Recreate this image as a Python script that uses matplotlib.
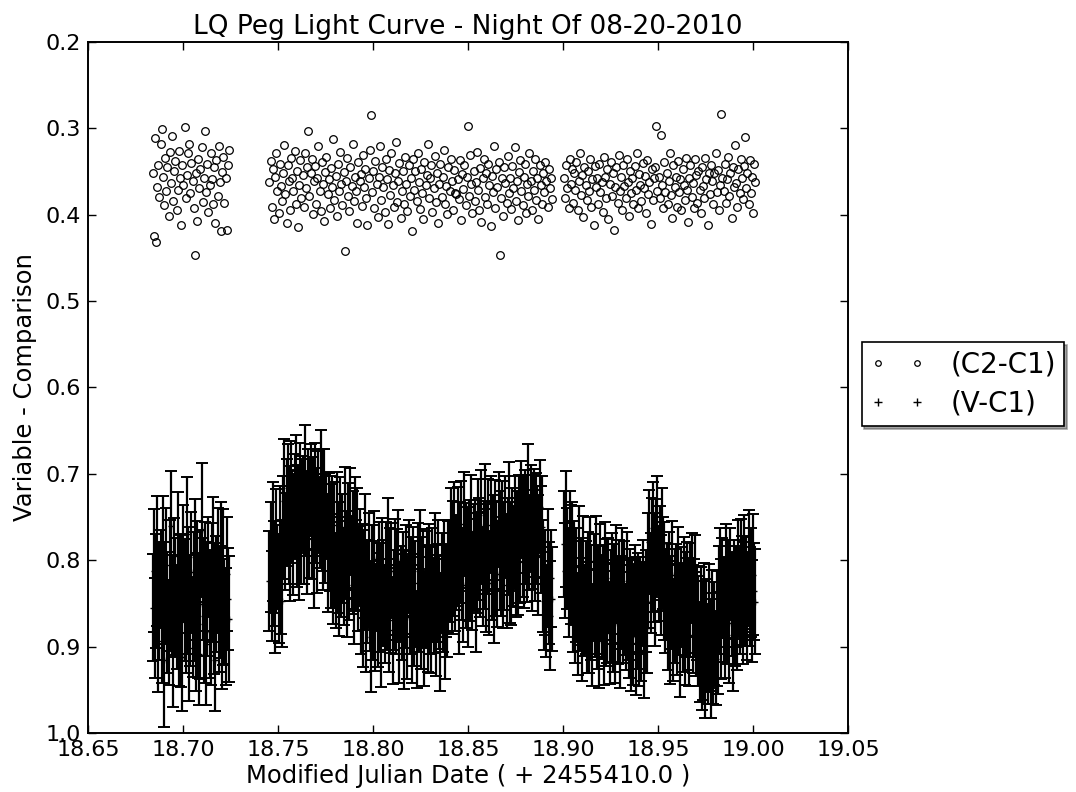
import numpy as np
import matplotlib
matplotlib.use("Agg")
import matplotlib.pyplot as plt
from matplotlib.lines import Line2D

# MJD offset (days) that the time lists below are counted from
T0 = 18.68

# observation times, in units of 1e-4 day past T0 (three runs of the night)
t_run1 = [40, 46, 52, 58, 64, 70, 76, 82, 88, 94, 100, 106, 112, 118, 124, 130, 136, 142, 148, 154,
          160, 166, 172, 178, 184, 190, 196, 202, 208, 214, 220, 226, 232, 238, 244, 250, 256, 262, 268, 274,
          280, 286, 292, 298, 304, 310, 316, 322, 328, 334, 340, 346, 352, 358, 364, 370, 376, 382, 388, 394,
          400, 406, 412, 418, 424, 430, 436, 442]
t_run2 = [655, 661, 667, 673, 679, 685, 691, 697, 703, 709, 715, 721, 727, 733, 739, 745, 751, 757, 763, 769,
          775, 781, 787, 793, 799, 805, 811, 817, 823, 829, 835, 841, 847, 853, 859, 865, 871, 877, 883, 889,
          895, 901, 907, 913, 919, 925, 931, 937, 943, 949, 955, 961, 967, 973, 979, 985, 991, 997, 1003, 1009,
          1015, 1021, 1027, 1033, 1039, 1045, 1051, 1057, 1063, 1069, 1075, 1081, 1087, 1093, 1099, 1105, 1111,
          1117, 1123, 1129, 1135, 1141, 1147, 1153, 1159, 1165, 1171, 1177, 1183, 1189, 1195, 1201, 1207, 1213,
          1219, 1225, 1231, 1237, 1243, 1249, 1255, 1261, 1267, 1273, 1279, 1285, 1291, 1297, 1303, 1309, 1315,
          1321, 1327, 1333, 1339, 1345, 1351, 1357, 1363, 1369, 1375, 1381, 1387, 1393, 1399, 1405, 1411, 1417,
          1423, 1429, 1435, 1441, 1447, 1453, 1459, 1465, 1471, 1477, 1483, 1489, 1495, 1501, 1507, 1513, 1519,
          1525, 1531, 1537, 1543, 1549, 1555, 1561, 1567, 1573, 1579, 1585, 1591, 1597, 1603, 1609, 1615, 1621,
          1627, 1633, 1639, 1645, 1651, 1657, 1663, 1669, 1675, 1681, 1687, 1693, 1699, 1705, 1711, 1717, 1723,
          1729, 1735, 1741, 1747, 1753, 1759, 1765, 1771, 1777, 1783, 1789, 1795, 1801, 1807, 1813, 1819, 1825,
          1831, 1837, 1843, 1849, 1855, 1861, 1867, 1873, 1879, 1885, 1891, 1897, 1903, 1909, 1915, 1921, 1927,
          1933, 1939, 1945, 1951, 1957, 1963, 1969, 1975, 1981, 1987, 1993, 1999, 2005, 2011, 2017, 2023, 2029,
          2035, 2041, 2047, 2053, 2059, 2065, 2071, 2077, 2083, 2089, 2095, 2101, 2107, 2113, 2119, 2125, 2131,
          2137, 2143]
t_run3 = [2205, 2211, 2217, 2223, 2229, 2235, 2241, 2247, 2253, 2259, 2265, 2271, 2277, 2283, 2289, 2295,
          2301, 2307, 2313, 2319, 2325, 2331, 2337, 2343, 2349, 2355, 2361, 2367, 2373, 2379, 2385, 2391, 2397,
          2403, 2409, 2415, 2421, 2427, 2433, 2439, 2445, 2451, 2457, 2463, 2469, 2475, 2481, 2487, 2493, 2499,
          2505, 2511, 2517, 2523, 2529, 2535, 2541, 2547, 2553, 2559, 2565, 2571, 2577, 2583, 2589, 2595, 2601,
          2607, 2613, 2619, 2625, 2631, 2637, 2643, 2649, 2655, 2661, 2667, 2673, 2679, 2685, 2691, 2697, 2703,
          2709, 2715, 2721, 2727, 2733, 2739, 2745, 2751, 2757, 2763, 2769, 2775, 2781, 2787, 2793, 2799, 2805,
          2811, 2817, 2823, 2829, 2835, 2841, 2847, 2853, 2859, 2865, 2871, 2877, 2883, 2889, 2895, 2901, 2907,
          2913, 2919, 2925, 2931, 2937, 2943, 2949, 2955, 2961, 2967, 2973, 2979, 2985, 2991, 2997, 3003, 3009,
          3015, 3021, 3027, 3033, 3039, 3045, 3051, 3057, 3063, 3069, 3075, 3081, 3087, 3093, 3099, 3105, 3111,
          3117, 3123, 3129, 3135, 3141, 3147, 3153, 3159, 3165, 3171, 3177, 3183, 3189, 3195, 3201, 3207, 3213]

# (V-C1) differential magnitude, in millimag
vc1_run1 = [855, 812, 878, 836, 801, 893, 847, 822, 869, 790, 915, 838, 806, 861, 884, 829, 760, 852, 898, 817,
            843, 866, 795, 881, 827, 859, 912, 804, 846, 871, 770, 835, 902, 858, 814, 877, 842, 796, 889, 823,
            864, 908, 851, 765, 833, 874, 819, 897, 845, 808, 862, 883, 826, 791, 856, 915, 839, 812, 871, 848,
            803, 886, 831, 859, 877, 816, 845, 868]
vc1_run2 = [824, 796, 841, 778, 815, 852, 789, 808, 833, 771, 819, 847,
            762, 731, 778, 745, 716, 759, 788, 727, 749, 770, 738, 712, 764, 741, 783, 722, 755, 734, 768, 709,
            746, 775, 729, 752, 719, 761, 738, 785, 726, 748, 771, 733, 757, 714, 742, 779, 731, 763, 748, 792,
            756, 774,
            801, 768, 815, 782, 824, 759, 797, 836, 773, 808, 786, 819, 762, 794, 829, 777, 812, 755, 803, 791,
            838, 769, 806, 784, 821, 797,
            842, 808, 861, 823, 795, 874, 836, 812, 853, 889, 818, 847, 799, 866, 831, 858, 814, 843, 877, 805,
            838, 862, 824, 851, 793, 869, 835, 812, 881, 846, 819, 857, 828, 801, 872, 839, 854, 816, 883, 845,
            822, 866, 807, 849, 831, 874, 813, 858, 839, 892, 826, 851, 804, 868, 837, 815, 879, 842, 823, 857,
            811, 846, 871, 829, 852, 806, 864, 838, 817, 851, 883, 826, 844, 809, 866, 835, 852, 819,
            812, 779, 835, 798, 766, 821, 803, 784, 847, 791, 772, 816, 829, 758, 806, 794, 838, 781, 811, 769,
            824, 797, 785, 842, 803, 776,
            781, 805, 762, 819, 794, 748, 812, 787, 771, 826, 759, 801, 779, 834, 765, 798, 816, 753, 789, 807,
            772, 829, 795, 761, 812, 784, 748, 803, 821, 776, 795, 768, 814, 787, 802,
            758, 785, 741, 772, 796, 749, 764, 788, 733, 779, 752, 801, 767, 745, 783, 759, 771, 794, 738, 776,
            762,
            818, 847, 826, 859, 809, 838, 864, 821, 845]
vc1_run3 = [781, 812, 764, 798, 826, 772, 805, 789,
            842, 815, 863, 829, 874, 808, 851, 836, 882, 817, 858, 843, 871, 824, 866, 801, 849, 887, 832, 857,
            819, 868, 845, 892, 826, 854, 838, 879, 813, 861, 847, 829, 884, 853, 821, 866, 839, 873, 815, 858,
            836, 881, 849, 824, 862, 844, 877, 831, 856,
            868, 842, 889, 857, 874, 835, 896, 861, 849, 883, 852, 871, 838, 904, 866, 847, 879,
            812, 779, 826, 794, 763, 808, 837, 786, 771, 815, 798, 829, 781, 803, 824, 847,
            836, 864, 825, 872, 849, 817, 881, 853, 838, 869, 822, 857, 891, 843, 866, 829, 875, 851, 834, 862,
            887, 846, 821, 868, 855, 839, 874, 861,
            882, 906, 871, 918, 893, 864, 927, 887, 909, 876, 898, 921, 868, 902, 885, 914, 879, 896,
            846, 819, 868, 832, 857, 881, 824, 862, 839, 873, 816, 851, 886, 834, 859, 842, 871,
            821, 847, 806, 835, 862, 814, 839, 828, 853, 809, 842, 826, 859, 817, 836, 848]

# (V-C1) 1-sigma errors, millimag
err_run1 = [62, 71, 58, 66, 75, 60, 68, 57, 73, 64, 78, 59, 67, 70, 61, 76, 63, 58, 72, 66,
            69, 60, 74, 65, 57, 88, 62, 68, 71, 59, 66, 73, 61, 64, 70, 58, 75, 67, 62, 69,
            72, 60, 86, 77, 59, 68, 63, 71, 66, 58, 74, 61, 69, 64, 76, 60, 67, 72, 58, 65,
            70, 63, 90, 61, 68, 66, 59, 73]
err_run2 = [58, 64, 52, 69, 61, 55, 72, 49, 63, 57, 66, 53, 60, 71, 56, 62, 50, 68, 59, 65,
            54, 70, 61, 57, 67, 51, 63, 58, 72, 55, 60, 66, 49, 64, 58, 69, 53, 61, 57, 70,
            62, 55, 67, 59, 52, 65, 71, 56, 60, 63, 50, 68, 57, 62, 54, 66, 59, 73, 55, 61,
            64, 52, 69, 58, 63, 56, 70, 51, 60, 67, 57, 62, 54, 71, 59, 65, 53, 68, 61, 56,
            66, 50, 63, 58, 72, 55, 60, 67, 52, 64, 59, 69, 56, 62, 51, 66, 58, 63, 70, 54,
            61, 57, 68, 53, 65, 60, 72, 55, 62, 58, 67, 52, 64, 59, 70, 56, 61, 49, 66, 57,
            63, 71, 54, 60, 58, 68, 52, 65, 61, 56, 69, 55, 62, 58, 64, 51, 67, 60, 57, 72,
            53, 63, 59, 66, 55, 61, 70, 57, 64, 52, 68, 58, 62, 56, 71, 54, 60, 65, 59, 63,
            50, 67, 57, 61, 55, 69, 62, 58, 64, 53, 66, 60, 72, 56, 63, 51, 59, 68, 57, 62,
            55, 64, 58, 70, 53, 61, 66, 57, 63, 59, 71, 52, 65, 60, 56, 68, 54, 62, 58, 67,
            61, 55, 69, 57, 64, 50, 63, 59, 66, 56, 62, 70, 54, 60, 58, 65, 52, 67, 61, 57,
            64, 56, 71, 59, 53, 63, 60, 68, 55, 62, 58, 66, 51, 64, 60, 57, 69, 54, 62, 59,
            65, 57, 61, 53, 68, 59, 63, 56, 60]
err_run3 = [61, 55, 67, 58, 63, 52, 69, 57, 64, 60, 56, 66, 59, 71, 54, 62, 58, 68, 53, 65,
            60, 57, 64, 51, 67, 59, 62, 55, 70, 58, 63, 56, 68, 60, 54, 66, 57, 61, 72, 55,
            59, 65, 52, 63, 58, 69, 56, 62, 60, 67, 54, 61, 57, 66, 50, 64, 59, 68, 55, 62,
            58, 70, 53, 60, 65, 57, 63, 56, 69, 61, 55, 64, 59, 52, 67, 60, 58, 66, 54, 63,
            62, 57, 69, 55, 61, 58, 65, 53, 68, 60, 56, 63, 58, 71, 54, 62, 59, 66, 57, 64,
            60, 53, 67, 58, 63, 56, 70, 61, 55, 65, 59, 66, 52, 62, 57, 68, 60, 54, 64, 58,
            63, 55, 69, 61, 56, 65, 58, 72, 53, 62, 57, 64, 60, 54, 67, 59, 63, 56, 70, 58,
            61, 55, 66, 58, 62, 69, 53, 60, 65, 57, 64, 59, 56, 68, 61, 54, 63, 58, 66, 60,
            55, 62, 67, 57, 63, 59, 70, 56, 61]

# (C2-C1) check-star differential magnitude, millimag
c2c1_run1 = [352, 425, 311, 431, 368, 342, 379, 318, 301, 356, 389, 334, 372, 345, 401, 327, 363, 309, 384, 349,
             338, 395, 371, 326, 358, 412, 343, 366, 298, 381, 354, 329, 318, 375, 340, 361, 392, 447, 352, 407,
             336, 369, 347, 322, 385, 358, 303, 374, 341, 397, 366, 329, 359, 388, 345, 409, 337, 378, 320, 362,
             419, 351, 333, 386, 357, 418, 343, 325]
c2c1_run2 = [362, 338, 391, 347, 405, 356, 329, 373, 398, 341, 367, 384, 352, 319, 376, 409, 343, 361, 395, 334,
             357, 372, 326, 388, 349, 414, 366, 337, 381, 354, 391, 328, 369, 345, 303, 378, 352, 336, 399, 361,
             344, 387, 358, 321, 372, 396, 339, 364, 407, 351, 333, 376, 359, 392, 346, 368, 312, 383, 355, 402,
             341, 372, 327, 365, 389, 350, 442, 361, 334, 378, 396, 345, 367, 318, 384, 356, 372, 409, 339, 361,
             353, 390, 331, 368, 347, 381, 412, 357, 325, 285, 374, 349, 392, 338, 364, 403, 356, 321, 383, 345,
             368, 397, 335, 359, 411, 348, 377, 329, 366, 391, 352, 316, 385, 361, 340, 404, 372, 349, 388, 333,
             365, 396, 342, 378, 357, 419, 336, 371, 349, 384, 328, 362, 393, 347, 375, 405, 339, 366, 354, 318,
             381, 358, 343, 397, 369, 332, 385, 352, 410, 364, 341, 379, 356, 325, 388, 367, 399, 345, 372, 336,
             361, 394, 348, 375, 376, 359, 382, 337, 406, 353, 370, 343, 389, 356, 297, 378, 331, 364, 398, 349,
             384, 362, 327, 371, 395, 346, 408, 358, 336, 379, 352, 387, 341, 366, 413, 355, 374, 321, 392, 347,
             368, 339, 447, 381, 357, 402, 345, 363, 386, 332, 375, 358, 393, 344, 369, 322, 384, 361, 406, 350,
             337, 372, 389, 356, 341, 398, 365, 378, 328, 361, 394, 349, 371, 336, 383, 357, 405, 343, 366, 388,
             352, 374, 339, 361, 391, 347, 369, 357, 382]
c2c1_run3 = [358, 381, 343, 369, 392, 336, 364, 347, 386, 352, 371, 339, 395, 361, 328, 377, 354, 403, 345, 366,
             383, 349, 372, 336, 391, 359, 412, 344, 368, 357, 388, 341, 374, 362, 397, 333, 356, 381, 347, 405,
             364, 339, 378, 352, 418, 368, 345, 386, 331, 373, 356, 394, 342, 367, 381, 336, 362, 401, 349, 375,
             358, 387, 344, 371, 329, 392, 353, 366, 384, 340, 369, 355, 398, 337, 376, 362, 411, 347, 383, 358,
             345, 297, 372, 356, 381, 308, 366, 392, 339, 374, 352, 387, 361, 329, 377, 404, 343, 368, 356, 391,
             338, 374, 359, 395, 347, 366, 383, 334, 371, 408, 357, 342, 379, 363, 392, 336, 354, 386, 349, 371,
             398, 345, 367, 381, 334, 359, 412, 352, 376, 343, 361, 387, 352, 329, 374, 348, 395, 366, 283, 357,
             372, 341, 386, 359, 333, 378, 352, 404, 345, 368, 319, 363, 391, 347, 375, 336, 358, 382, 344, 310,
             369, 352, 388, 337, 375, 356, 398, 341, 362]

x_ticks = [18.65, 18.70, 18.75, 18.80, 18.85, 18.90, 18.95, 19.00, 19.05]
y_ticks = [0.2, 0.3, 0.4, 0.5, 0.6, 0.7, 0.8, 0.9, 1.0]

t = T0 + np.array(t_run1 + t_run2 + t_run3) * 1e-4
vc1 = np.array(vc1_run1 + vc1_run2 + vc1_run3) / 1000.0
err = np.array(err_run1 + err_run2 + err_run3) / 1000.0
c2c1 = np.array(c2c1_run1 + c2c1_run2 + c2c1_run3) / 1000.0

plt.rcParams['font.family'] = 'DejaVu Sans'
fig = plt.figure(figsize=(10.76, 7.92), dpi=100)
ax = fig.add_axes([0.0818, 0.0745, 0.7063, 0.8725])

ax.plot(t, c2c1, 'o', mfc='none', mec='k', ms=5.5, mew=0.9)
ax.errorbar(t, vc1, yerr=err, fmt='+', color='k', ecolor='k', ms=5,
            elinewidth=1.6, capsize=4, capthick=1.4)

ax.set_xlim(18.65, 19.05)
ax.set_ylim(1.0, 0.2)
ax.set_xticks(x_ticks)
ax.set_xticklabels(['%.2f' % v for v in x_ticks])
ax.set_yticks(y_ticks)
ax.set_yticklabels(['%.1f' % v for v in y_ticks])
ax.tick_params(direction='in', length=6, width=1, top=True, right=True, labelsize=16, pad=5)
for s in ax.spines.values():
    s.set_linewidth(1.4)

ax.set_title('LQ Peg Light Curve - Night Of 08-20-2010', fontsize=19, pad=6)
ax.set_xlabel('Modified Julian Date ( + 2455410.0 )', fontsize=17.5, labelpad=3)
ax.set_ylabel('Variable - Comparison', fontsize=17.5, labelpad=6)

handles = [Line2D([], [], ls='none', marker='o', mfc='none', mec='k', ms=4, mew=0.9),
           Line2D([], [], ls='none', marker='+', color='k', ms=6)]
leg = ax.legend(handles, ['(C2-C1)', '(V-C1)'], loc='center left', bbox_to_anchor=(1.018, 0.505),
                numpoints=2, fontsize=20, shadow=True, fancybox=False, frameon=True,
                borderaxespad=0, handlelength=2.0, handletextpad=0.9, borderpad=0.3,
                labelspacing=0.4)
leg.get_frame().set_edgecolor('k')
leg.get_frame().set_linewidth(1.2)

fig.savefig('out.png', dpi=100)
